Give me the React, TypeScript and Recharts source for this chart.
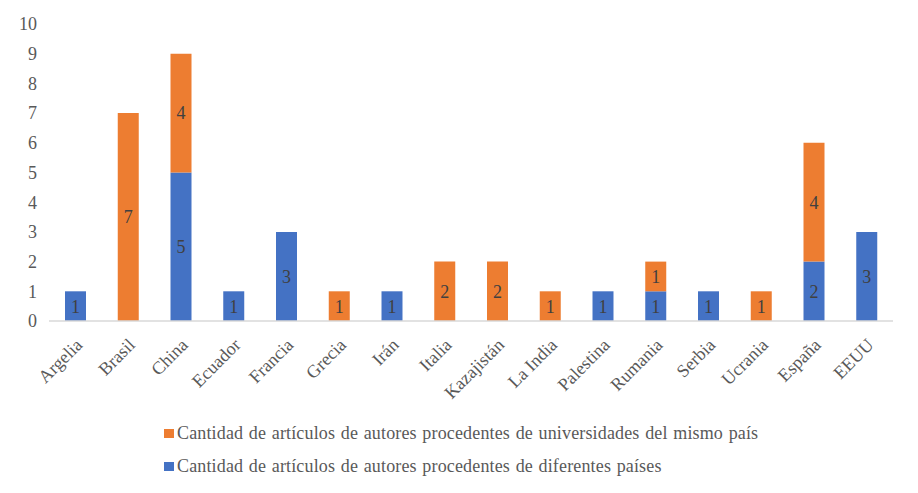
import React from 'react';
import { BarChart, Bar, XAxis, YAxis, Legend, LabelList } from 'recharts';

const countries = [
  'Argelia', 'Brasil', 'China', 'Ecuador', 'Francia', 'Grecia', 'Irán', 'Italia',
  'Kazajistán', 'La India', 'Palestina', 'Rumania', 'Serbia', 'Ucrania', 'España', 'EEUU',
];
const diferentesPaises = [1, 0, 5, 1, 3, 0, 1, 0, 0, 0, 1, 1, 1, 0, 2, 3];
const mismoPais = [0, 7, 4, 0, 0, 1, 0, 2, 2, 1, 0, 1, 0, 1, 4, 0];
const yTicks = [0, 1, 2, 3, 4, 5, 6, 7, 8, 9, 10];

const LABEL_MISMO = 'Cantidad de artículos de autores procedentes de universidades del mismo país';
const LABEL_DIF = 'Cantidad de artículos de autores procedentes de diferentes países';

const BLUE = '#4472C4';
const ORANGE = '#ED7D31';
const FONT = '"Liberation Serif", "Times New Roman", serif';

const data = countries.map((name, i) => ({
  name,
  dif: diferentesPaises[i],
  mismo: mismoPais[i],
}));

const hideZero = (v: any) => (v ? v : '');

const CountryTick = (props: any) => {
  const { x, y, payload } = props;
  const tx = x + 8;
  const ty = y + 17;
  return (
    <text
      x={tx}
      y={ty}
      textAnchor="end"
      fill="#595959"
      fontSize={18}
      fontFamily={FONT}
      transform={`rotate(-45, ${tx}, ${ty})`}
    >
      {payload.value}
    </text>
  );
};

const LegendBox = () => (
  <div style={{ fontFamily: FONT, fontSize: 18, color: '#595959' }}>
    {[
      { color: ORANGE, text: LABEL_MISMO },
      { color: BLUE, text: LABEL_DIF },
    ].map((it) => (
      <div key={it.text} style={{ display: 'flex', alignItems: 'center', height: 33, whiteSpace: 'nowrap' }}>
        <span style={{ display: 'inline-block', width: 10, height: 9, background: it.color, marginRight: 3 }} />
        <span style={{ letterSpacing: 0.15, wordSpacing: 1 }}>{it.text}</span>
      </div>
    ))}
  </div>
);

export default function App() {
  return (
    <div style={{ margin: -8, width: 918, height: 493, background: '#fff', fontFamily: FONT }}>
      <BarChart
        width={918}
        height={493}
        data={data}
        margin={{ top: 24, right: 25, left: 9, bottom: 72 }}
        barSize={21}
      >
        <XAxis
          dataKey="name"
          interval={0}
          height={100}
          tickLine={false}
          axisLine={{ stroke: '#D9D9D9', strokeWidth: 1.5 }}
          tick={<CountryTick />}
        />
        <YAxis
          domain={[0, 10]}
          ticks={yTicks}
          width={40}
          axisLine={false}
          tickLine={false}
          tickMargin={6}
          tick={{ fill: '#595959', fontSize: 18, fontFamily: FONT }}
        />
        <Legend
          layout="vertical"
          verticalAlign="middle"
          align="center"
          content={<LegendBox />}
          wrapperStyle={{ top: 417, left: 164, width: 'auto' }}
        />
        <Bar dataKey="dif" stackId="a" fill={BLUE} name={LABEL_DIF} isAnimationActive={false}>
          <LabelList
            dataKey="dif"
            position="center"
            formatter={hideZero}
            fill="#404040"
            fontSize={18}
            fontFamily={FONT}
          />
        </Bar>
        <Bar dataKey="mismo" stackId="a" fill={ORANGE} name={LABEL_MISMO} isAnimationActive={false}>
          <LabelList
            dataKey="mismo"
            position="center"
            formatter={hideZero}
            fill="#404040"
            fontSize={18}
            fontFamily={FONT}
          />
        </Bar>
      </BarChart>
    </div>
  );
}
